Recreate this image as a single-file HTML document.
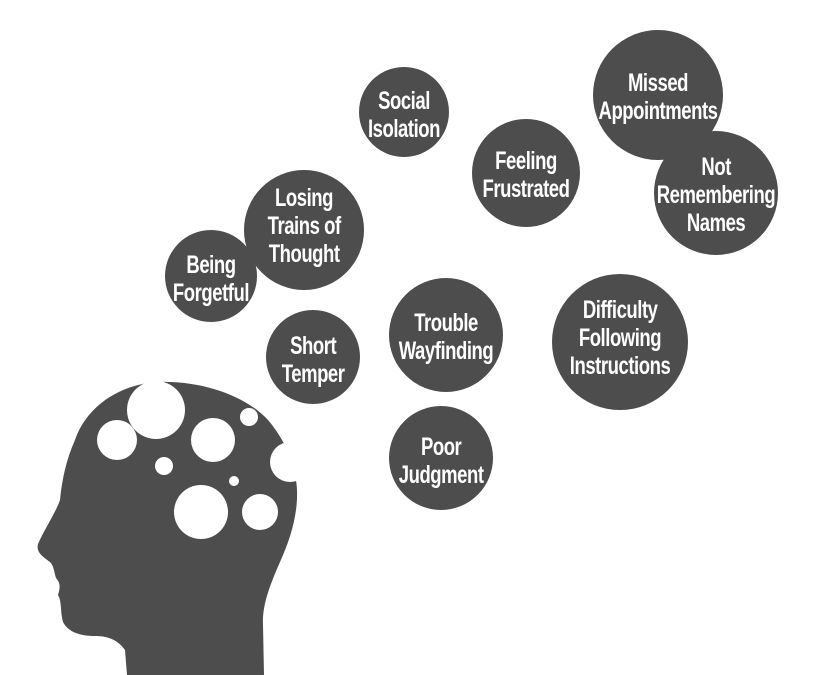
<!DOCTYPE html>
<html><head><style>
html,body{margin:0;padding:0;background:#fff;width:825px;height:675px;overflow:hidden}
svg text{font-family:"Liberation Sans Narrow","Liberation Sans",sans-serif;font-weight:bold;fill:#fff;font-size:25px;text-anchor:middle;letter-spacing:-0.6px;transform-box:fill-box;transform-origin:center;transform:scaleX(0.74)}
</style></head><body>
<svg width="825" height="675" viewBox="0 0 825 675">
<g fill="#4d4d4d">
<path d="M157,382 C200,380 245,395 268,420 C285,440 296,465 297,490 C298,515 290,540 280,562 C270,585 262,605 263,625 L264,675 L127,675 L125,650 C118,640 108,636 95,636 C80,636 68,632 63,622 C60,610 62,602 58,595 C60,588 61,584 56,578 C54,572 54,566 50,562 C42,556 36,552 38,544 C44,530 56,512 60,500 C62,480 66,460 75,440 C85,410 115,385 157,382 Z"/>
<circle cx="404" cy="112" r="45"/>
<circle cx="658" cy="95" r="65"/>
<circle cx="716" cy="193" r="62"/>
<circle cx="526" cy="173" r="54"/>
<circle cx="304" cy="230" r="60"/>
<circle cx="211" cy="276" r="46"/>
<circle cx="313" cy="357" r="47"/>
<circle cx="446" cy="335" r="57"/>
<circle cx="620" cy="342" r="68"/>
<circle cx="441" cy="458" r="52"/>
</g>
<g fill="#fff">
<circle cx="156" cy="410" r="29"/>
<circle cx="117" cy="440" r="20"/>
<circle cx="213" cy="440" r="22"/>
<circle cx="249" cy="417" r="9"/>
<circle cx="164" cy="466" r="9"/>
<circle cx="234" cy="481" r="5"/>
<circle cx="201" cy="512" r="27"/>
<circle cx="260" cy="512" r="18"/>
<circle cx="290" cy="462" r="20"/>
</g>
<text x="404" y="109">Social</text><text x="404" y="137">Isolation</text>
<text x="658" y="91">Missed</text><text x="658" y="119">Appointments</text>
<text x="716" y="175">Not</text><text x="716" y="203">Remembering</text><text x="716" y="231">Names</text>
<text x="526" y="169">Feeling</text><text x="526" y="197">Frustrated</text>
<text x="304" y="206">Losing</text><text x="304" y="234">Trains of</text><text x="304" y="262">Thought</text>
<text x="211" y="273">Being</text><text x="211" y="301">Forgetful</text>
<text x="313" y="354">Short</text><text x="313" y="382">Temper</text>
<text x="446" y="331">Trouble</text><text x="446" y="359">Wayfinding</text>
<text x="620" y="318">Difficulty</text><text x="620" y="346">Following</text><text x="620" y="374">Instructions</text>
<text x="441" y="455">Poor</text><text x="441" y="483">Judgment</text>
</svg>
</body></html>
